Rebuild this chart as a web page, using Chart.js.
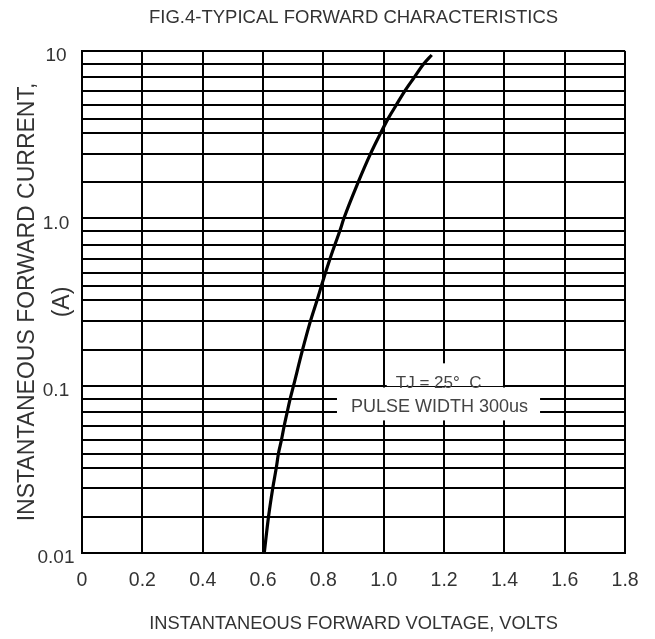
<!DOCTYPE html>
<html>
<head>
<meta charset="utf-8">
<script src="https://cdn.jsdelivr.net/npm/chart.js@4.4.1/dist/chart.umd.min.js"></script>
<style>
html,body{margin:0;padding:0;background:#fff;}
#wrap{width:655px;height:639px;}
</style>
</head>
<body>
<div id="wrap"><canvas id="c" width="655" height="639"></canvas></div>
<script>
// ---- data ----
const voltage = [0.604, 0.618, 0.632, 0.644, 0.651, 0.661, 0.670, 0.680, 0.690, 0.701,
                 0.731, 0.757, 0.779, 0.793, 0.807, 0.822, 0.838, 0.854, 0.868,
                 0.915, 0.956, 0.990, 1.014, 1.041, 1.069, 1.101, 1.132, 1.159];
const current = [0.01, 0.0164, 0.0243, 0.0324, 0.0393, 0.0474, 0.0574, 0.0695, 0.0836, 0.1,
                 0.164, 0.243, 0.324, 0.393, 0.474, 0.574, 0.695, 0.836, 1.0,
                 1.64, 2.43, 3.24, 3.93, 4.74, 5.74, 6.95, 8.36, 9.47];

const xTickValues = [0, 0.2, 0.4, 0.6, 0.8, 1.0, 1.2, 1.4, 1.6, 1.8];
const xTickLabels = ['0', '0.2', '0.4', '0.6', '0.8', '1.0', '1.2', '1.4', '1.6', '1.8'];
const yDecades = [0.01, 0.1, 1];
const yMajorValues = [0.01, 0.1, 1, 10];
const yMajorLabels = ['0.01', '0.1', '1.0', '10'];
// minor grid lines inside each decade, as drawn in the reference
const yMinorSteps = [1.64, 2.43, 3.24, 3.93, 4.74, 5.74, 6.95, 8.36];

const chartTitle = 'FIG.4-TYPICAL FORWARD CHARACTERISTICS';
const xTitle = 'INSTANTANEOUS FORWARD VOLTAGE, VOLTS';
const yTitle = ['INSTANTANEOUS FORWARD CURRENT,', '(A)'];
const noteTemp = 'TJ = 25°  C';
const notePulse = 'PULSE WIDTH 300us';

// ---- build ----
const points = voltage.map((v, i) => ({x: v, y: current[i]}));
const yGridValues = [];
yDecades.forEach(d => { yGridValues.push(d); yMinorSteps.forEach(m => yGridValues.push(d * m)); });
yGridValues.push(10);

const REG = "'Liberation Sans', Arial, sans-serif";
const TXT = '#333';

const notesPlugin = {
  id: 'notes',
  beforeDatasetsDraw(chart) {
    const {ctx, scales: {x, y}} = chart;
    ctx.save();
    ctx.fillStyle = '#fff';
    const rect = (x0, x1, y0, y1) => {
      const px0 = x.getPixelForValue(x0), px1 = x.getPixelForValue(x1);
      const py0 = y.getPixelForValue(y0), py1 = y.getPixelForValue(y1);
      ctx.fillRect(px0, py0, px1 - px0, py1 - py0);
    };
    rect(1.01, 1.395, 0.136, 0.0995);
    rect(0.845, 1.518, 0.0975, 0.062);
    ctx.fillStyle = '#444';
    ctx.textAlign = 'center';
    ctx.textBaseline = 'middle';
    ctx.font = "17px " + REG;
    ctx.fillText(noteTemp, x.getPixelForValue(1.182), y.getPixelForValue(0.104));
    ctx.font = "18px " + REG;
    ctx.fillText(notePulse, x.getPixelForValue(1.185), y.getPixelForValue(0.0743));
    ctx.restore();
  }
};

new Chart(document.getElementById('c'), {
  type: 'line',
  data: {
    datasets: [{
      data: points,
      borderColor: '#000',
      borderWidth: 3.2,
      pointRadius: 0,
      cubicInterpolationMode: 'monotone',
      fill: false
    }]
  },
  options: {
    responsive: false,
    animation: false,
    devicePixelRatio: 1,
    layout: {padding: {left: 0, right: 27, top: 0, bottom: 0}},
    plugins: {
      legend: {display: false},
      tooltip: {enabled: false},
      title: {
        display: true,
        text: chartTitle,
        fullSize: false,
        color: TXT,
        font: {family: REG, size: 18.5, weight: 'normal', lineHeight: 1.2},
        padding: {top: 7, bottom: 21.8}
      }
    },
    scales: {
      x: {
        type: 'linear',
        min: 0, max: 1.8,
        afterBuildTicks: s => { s.ticks = xTickValues.map(v => ({value: v})); },
        afterFit: s => { s.height = 86; },
        grid: {color: '#000', lineWidth: 2, drawTicks: false},
        border: {color: '#000', width: 2},
        ticks: {
          autoSkip: false, maxRotation: 0, padding: 16.3, color: TXT,
          font: {family: REG, size: 19.5},
          callback: (v, i) => xTickLabels[i]
        },
        title: {
          display: true, text: xTitle, color: TXT,
          font: {family: REG, size: 18.3, lineHeight: 1.2},
          padding: {top: 0, bottom: 4}
        }
      },
      y: {
        type: 'logarithmic',
        min: 0.01, max: 10,
        afterBuildTicks: s => { s.ticks = yGridValues.map(v => ({value: v})); },
        afterFit: s => { s.width = 82; },
        grid: {color: '#000', lineWidth: 2, drawTicks: false},
        border: {color: '#000', width: 2},
        ticks: {
          autoSkip: false, crossAlign: 'center', padding: 7.5, labelOffset: 5, color: TXT,
          font: {family: REG, size: 19},
          callback: (v) => {
            const i = yMajorValues.findIndex(m => Math.abs(m - v) / m < 1e-6);
            return i >= 0 ? yMajorLabels[i] : '';
          }
        },
        title: {
          display: true, text: yTitle, color: TXT,
          font: {family: REG, size: 23, lineHeight: 1.52},
          padding: {top: 10, bottom: 0}
        }
      }
    }
  },
  plugins: [notesPlugin]
});
</script>
</body>
</html>
